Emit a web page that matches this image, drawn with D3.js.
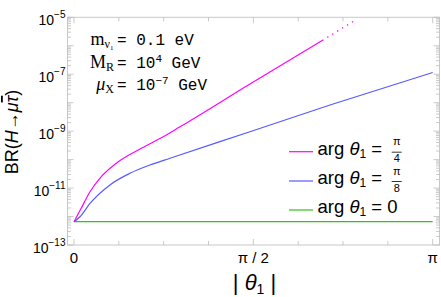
<!DOCTYPE html>
<html>
<head>
<meta charset="utf-8">
<script src="https://cdn.jsdelivr.net/npm/d3@7"></script>
<style>
  body { margin: 0; background: #fff; }
  svg { display: block; font-family: "Liberation Sans", Arial, sans-serif; }
</style>
</head>
<body>
<svg id="base" width="441" height="297"></svg>
<script>
// data (|theta1| in radians, BR values)
const thetaPink = [0, 0.0525, 0.14, 0.228, 0.403, 0.578, 0.753, 0.928, 1.541, 2.181];
const brPink = [6.6e-13, 1.62e-12, 7.44e-12, 2.25e-11, 9.3e-11, 2.35e-10, 5.5e-10, 1.42e-9, 4.53e-8, 1.59e-6];
const thetaPinkDots = [2.181, 2.476];
const brPinkDots = [1.59e-6, 8.5e-6];
const thetaBlue = [0, 0.0525, 0.14, 0.315, 0.49, 0.665, 0.841, 1.541, 2.242, Math.PI];
const brBlue = [6.6e-13, 9.8e-13, 2.88e-12, 1.29e-11, 3.31e-11, 6.46e-11, 1.12e-10, 9.55e-10, 8.3e-9, 1.15e-7];
const thetaGreen = [0, Math.PI];
const brGreen = [6.6e-13, 6.6e-13];

const xTicks = [0, Math.PI / 2, Math.PI];
const xTickLabels = ["0", "\u03c0 / 2", "\u03c0"];
const xMinor = d3.range(0, 9).map((i) => (i * Math.PI) / 8);
const yLabelExps = [-13, -11, -9, -7, -5];

const legendItems = [
    { color: "#ff00ff", num: "\u03c0", den: "4" },
    { color: "#5959ff", num: "\u03c0", den: "8" },
    { color: "#33c21a", value: "0" },
];

const svg = d3.select("#base");

// frame
const frame = { left: 67.5, right: 439.5, top: 17.3, bottom: 245 };

const x = d3.scaleLinear().domain([0, Math.PI]).range([74, 432.7]);
const y = d3.scaleLog().domain([1e-13, 1e-5]).range([frame.bottom, frame.top]);

svg.append("rect")
    .attr("x", frame.left)
    .attr("y", frame.top)
    .attr("width", frame.right - frame.left)
    .attr("height", frame.bottom - frame.top)
    .attr("fill", "none")
    .attr("stroke", "#c8c8c8")
    .attr("stroke-width", 1);

// y ticks: decades + minors
const yTickVals = [];
for (let e = -13; e < -5; e++) {
    for (let m = 1; m < 10; m++) yTickVals.push({ v: m * Math.pow(10, e), major: m === 1 });
}
yTickVals.push({ v: 1e-5, major: true });

const tickColor = "#bdbdbd";
const yt = svg.append("g");
yTickVals.forEach((t) => {
    const len = t.major ? 6 : 3.5;
    yt.append("line")
        .attr("x1", frame.left).attr("x2", frame.left + len)
        .attr("y1", y(t.v)).attr("y2", y(t.v))
        .attr("stroke", tickColor).attr("stroke-width", 0.8);
    yt.append("line")
        .attr("x1", frame.right).attr("x2", frame.right - len)
        .attr("y1", y(t.v)).attr("y2", y(t.v))
        .attr("stroke", tickColor).attr("stroke-width", 0.8);
});

// x ticks (bottom and top)
xMinor.forEach((v, i) => {
    const len = i % 4 === 0 ? 6 : 4;
    svg.append("line")
        .attr("x1", x(v)).attr("x2", x(v))
        .attr("y1", frame.bottom).attr("y2", frame.bottom - len)
        .attr("stroke", tickColor).attr("stroke-width", 0.8);
    svg.append("line")
        .attr("x1", x(v)).attr("x2", x(v))
        .attr("y1", frame.top).attr("y2", frame.top + len)
        .attr("stroke", tickColor).attr("stroke-width", 0.8);
});

// y tick labels 10^n
yLabelExps.forEach((e) => {
    const t = svg.append("text")
        .attr("x", 65.5)
        .attr("y", y(Math.pow(10, e)) + 7.5)
        .attr("text-anchor", "end")
        .attr("font-size", 14);
    t.append("tspan").text("10");
    t.append("tspan")
        .attr("dy", -6.5)
        .attr("font-size", 10)
        .text("\u2212" + Math.abs(e));
});

// x tick labels
xTicks.forEach((v, i) => {
    svg.append("text")
        .attr("x", x(v))
        .attr("y", 263)
        .attr("text-anchor", "middle")
        .attr("font-size", 15)
        .text(xTickLabels[i]);
});

// curves
const line = d3.line()
    .x((d) => x(d[0]))
    .y((d) => y(d[1]))
    .curve(d3.curveMonotoneX);

svg.append("path")
    .datum(d3.zip(thetaGreen, brGreen))
    .attr("d", line)
    .attr("fill", "none")
    .attr("stroke", legendItems[2].color)
    .attr("stroke-width", 1.4);

svg.append("path")
    .datum(d3.zip(thetaBlue, brBlue))
    .attr("d", line)
    .attr("fill", "none")
    .attr("stroke", legendItems[1].color)
    .attr("stroke-width", 1.2);

svg.append("path")
    .datum(d3.zip(thetaPink, brPink))
    .attr("d", line)
    .attr("fill", "none")
    .attr("stroke", legendItems[0].color)
    .attr("stroke-width", 1.2);

svg.append("path")
    .datum(d3.zip(thetaPinkDots, brPinkDots))
    .attr("d", line)
    .attr("fill", "none")
    .attr("stroke", legendItems[0].color)
    .attr("stroke-width", 1.3)
    .attr("stroke-dasharray", "1.3,4.5")
    .attr("stroke-dashoffset", -5);

// annotation block
const mono = "'Liberation Mono', 'DejaVu Sans Mono', monospace";
const serif = "'Liberation Serif', 'DejaVu Serif', serif";
const ann = [
    { lhs: ["m", "\u03bd\u2081"], rhs: "0.1 eV", y: 45 },
    { lhs: ["M", "R"], rhs: ["10", "4", " GeV"], y: 67.5 },
    { lhs: ["\u03bc", "X"], rhs: ["10", "\u22127", " GeV"], y: 90 },
];
ann.forEach((a) => {
    const l = svg.append("text")
        .attr("x", 114)
        .attr("y", a.y)
        .attr("text-anchor", "end")
        .style("font-family", serif)
        .attr("font-size", 18);
    l.append("tspan").attr("font-style", a.lhs[0] === "\u03bc" ? "italic" : "normal").text(a.lhs[0]);
    l.append("tspan").attr("font-size", 12).attr("dy", 3).text(a.lhs[1]);
    const r = svg.append("text")
        .attr("x", 117)
        .attr("y", a.y)
        .style("font-family", mono)
        .attr("font-size", 16);
    r.append("tspan").text("= ");
    if (typeof a.rhs === "string") {
        r.append("tspan").text(a.rhs);
    } else {
        r.append("tspan").text(a.rhs[0]);
        r.append("tspan").attr("font-size", 11).attr("dy", -6).text(a.rhs[1]);
        r.append("tspan").attr("dy", 6).text(a.rhs[2]);
    }
});

// legend
const legendY = [151.7, 181, 210];
legendItems.forEach((d, i) => {
    const ly = legendY[i];
    svg.append("line")
        .attr("x1", 289).attr("x2", 313)
        .attr("y1", ly).attr("y2", ly)
        .attr("stroke", d.color).attr("stroke-width", 1.2);
    const t = svg.append("text")
        .attr("x", 317.5)
        .attr("y", ly + 3)
        .attr("font-size", 18.5);
    t.append("tspan").text("arg ");
    t.append("tspan").attr("font-style", "italic").text("\u03b8");
    t.append("tspan").attr("font-size", 12).attr("dy", 3).text("1");
    t.append("tspan").attr("dy", -3).text(" = ");
    if (d.value) {
        t.append("tspan").text(d.value);
    } else {
        const cx = 396.7;
        svg.append("text").attr("x", cx).attr("y", ly - 6.5)
            .attr("text-anchor", "middle").attr("font-size", 11).text(d.num);
        svg.append("line")
            .attr("x1", cx - 5).attr("x2", cx + 5)
            .attr("y1", ly + 0.5).attr("y2", ly + 0.5)
            .attr("stroke", "#000").attr("stroke-width", 0.8);
        svg.append("text").attr("x", cx).attr("y", ly + 10.5)
            .attr("text-anchor", "middle").attr("font-size", 11).text(d.den);
    }
});

// axis titles
const yl = svg.append("text")
    .attr("transform", "translate(18,132) rotate(-90)")
    .attr("text-anchor", "middle")
    .attr("font-size", 18);
yl.append("tspan").text("BR(");
yl.append("tspan").attr("font-style", "italic").text("H");
yl.append("tspan").text("\u2192");
yl.append("tspan").attr("font-style", "italic").text("\u03bc");
yl.append("tspan").attr("font-style", "italic").attr("text-decoration", "overline").text("\u03c4");
yl.append("tspan").text(")");

const xl = svg.append("text")
    .attr("x", 254.5)
    .attr("y", 290)
    .attr("text-anchor", "middle")
    .attr("font-size", 22);
xl.append("tspan").text("| ");
xl.append("tspan").attr("font-style", "italic").text("\u03b8");
xl.append("tspan").attr("font-size", 14).attr("dy", 4).text("1");
xl.append("tspan").attr("dy", -4).text(" |");
</script>
</body>
</html>
